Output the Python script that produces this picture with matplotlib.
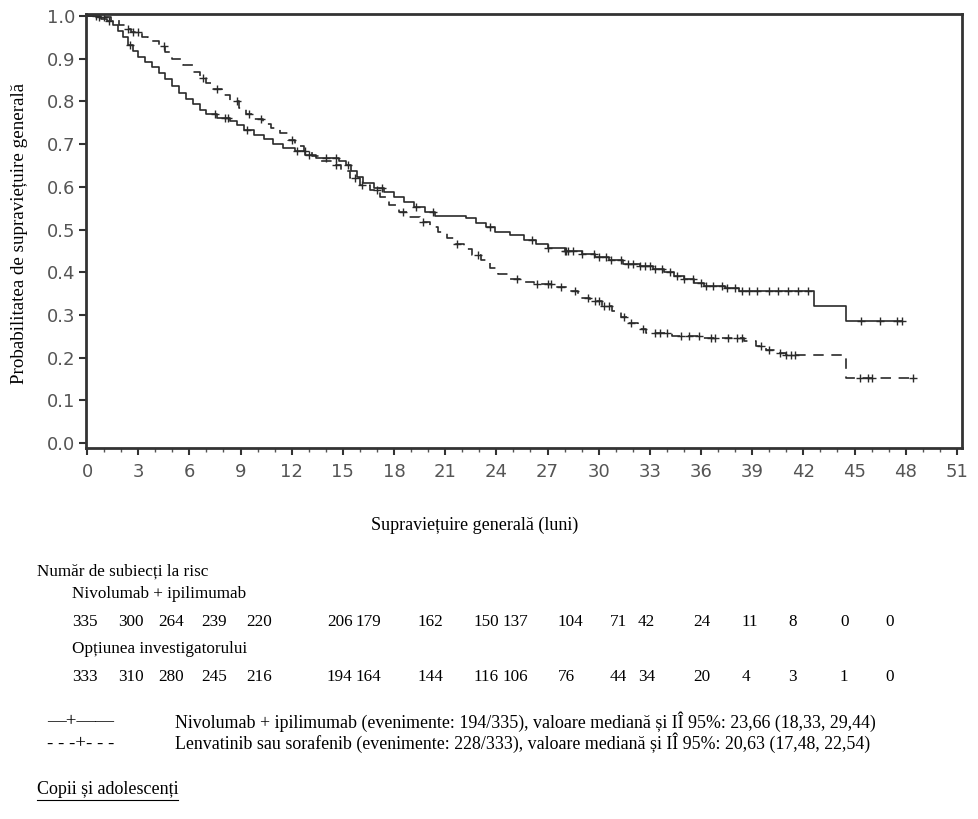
import numpy as np
import matplotlib
matplotlib.use("Agg")
import matplotlib.pyplot as plt

plt.rcParams['lines.scale_dashes'] = False

# ---------------- data ----------------
nivo_times = [0, 0.8, 1.2, 1.5, 1.8, 2.1, 2.4, 2.7, 3.0, 3.4, 3.8, 4.2, 4.6, 5.0, 5.4, 5.8,
              6.2, 6.6, 7.0, 7.6, 8.4, 8.8, 9.2, 9.8, 10.4, 10.9, 11.5, 12.2, 12.8, 13.4,
              14.8, 15.2, 15.5, 15.8, 16.2, 16.8, 17.4, 18.0, 18.6, 19.2, 19.8, 20.4, 22.2,
              22.8, 23.4, 23.9, 24.8, 25.6, 26.3, 27.0, 28.0, 29.0, 29.8, 30.6, 31.4, 32.4,
              33.2, 33.8, 34.4, 35.0, 35.6, 36.2, 37.4, 38.2, 42.6, 44.5]
nivo_surv = [1.0, 0.994, 0.988, 0.980, 0.966, 0.950, 0.932, 0.918, 0.905, 0.893, 0.880, 0.866,
             0.852, 0.836, 0.820, 0.805, 0.793, 0.780, 0.770, 0.762, 0.755, 0.745, 0.733, 0.722,
             0.712, 0.700, 0.690, 0.685, 0.675, 0.668, 0.660, 0.650, 0.638, 0.622, 0.610, 0.598,
             0.588, 0.577, 0.565, 0.552, 0.540, 0.532, 0.526, 0.515, 0.505, 0.495, 0.486, 0.476,
             0.466, 0.456, 0.450, 0.443, 0.436, 0.428, 0.420, 0.415, 0.408, 0.400, 0.392, 0.384,
             0.375, 0.368, 0.362, 0.355, 0.320, 0.285]
nivo_censor = [0.5, 1.3, 2.5, 7.5, 8.1, 8.25, 9.4, 12.3, 13.0, 14.0, 14.6, 15.3, 17.3, 19.3,
               20.3, 23.6, 26.1, 27.0, 28.0, 28.1, 28.2, 28.5, 29.0, 29.7, 30.0, 30.4, 30.7,
               31.3, 31.7, 32.0, 32.4, 32.7, 33.0, 33.3, 33.7, 34.2, 34.6, 35.0, 35.5, 36.0,
               36.3, 36.7, 37.2, 37.5, 38.0, 38.4, 38.8, 39.3, 40.0, 40.5, 41.1, 41.7, 42.3,
               45.4, 46.5, 47.5, 47.8]

len_times = [0, 0.6, 1.4, 1.9, 2.2, 2.6, 3.2, 3.6, 4.2, 4.6, 5.0, 5.6, 6.2, 6.6, 7.0, 7.4, 7.9,
             8.4, 8.9, 9.3, 9.8, 10.3, 10.8, 11.3, 11.8, 12.2, 12.7, 13.2, 13.7, 14.4, 14.9,
             15.4, 16.0, 16.6, 17.2, 17.7, 18.3, 18.9, 19.5, 20.1, 20.6, 21.1, 21.6, 22.1,
             22.6, 23.1, 23.6, 24.1, 24.7, 25.4, 26.2, 27.5, 28.2, 28.8, 29.5, 30.2, 30.8,
             31.3, 31.8, 32.3, 32.8, 34.3, 36.0, 38.5, 39.2, 39.8, 40.4, 41.0, 44.5]
len_surv = [1.0, 0.997, 0.990, 0.980, 0.970, 0.962, 0.952, 0.942, 0.930, 0.915, 0.900, 0.885,
            0.870, 0.855, 0.842, 0.828, 0.815, 0.800, 0.785, 0.770, 0.758, 0.748, 0.738, 0.725,
            0.710, 0.695, 0.683, 0.672, 0.660, 0.650, 0.638, 0.620, 0.605, 0.593, 0.575, 0.558,
            0.542, 0.530, 0.518, 0.505, 0.495, 0.480, 0.467, 0.455, 0.440, 0.428, 0.410, 0.395,
            0.385, 0.378, 0.372, 0.365, 0.355, 0.340, 0.332, 0.322, 0.308, 0.295, 0.282, 0.268,
            0.258, 0.250, 0.245, 0.238, 0.228, 0.218, 0.210, 0.205, 0.152]
len_censor = [0.7, 1.0, 2.4, 2.7, 3.0, 4.5, 6.8, 7.6, 8.8, 9.5, 10.2, 12.0, 12.8, 14.6, 15.7,
              16.1, 17.0, 18.5, 19.7, 21.7, 22.9, 25.2, 26.4, 27.0, 27.2, 27.8, 28.6, 29.4,
              29.8, 30.0, 30.3, 30.6, 31.5, 31.9, 32.6, 33.3, 33.6, 34.0, 34.8, 35.3, 35.9,
              36.6, 36.8, 37.6, 38.1, 38.4, 39.5, 40.0, 40.6, 41.0, 41.3, 41.5, 45.3, 45.8,
              46.0, 48.4]

x_ticks = list(range(0, 52, 3))
y_ticks = [0.0, 0.1, 0.2, 0.3, 0.4, 0.5, 0.6, 0.7, 0.8, 0.9, 1.0]

risk_nivo = ['335', '300', '264', '239', '220', '206', '179', '162', '150', '137', '104', '71',
             '42', '24', '11', '8', '0', '0']
risk_inv = ['333', '310', '280', '245', '216', '194', '164', '144', '116', '106', '76', '44',
            '34', '20', '4', '3', '1', '0']
risk_cols_px = [72, 118, 158, 201, 246, 327, 356, 418, 474, 503, 558, 610, 638, 693, 742, 788,
                840, 885]

legend_labels = [
    "Nivolumab + ipilimumab (evenimente: 194/335), valoare mediană și IÎ 95%: 23,66 (18,33, 29,44)",
    "Lenvatinib sau sorafenib (evenimente: 228/333), valoare mediană și IÎ 95%: 20,63 (17,48, 22,54)",
]
legend_symbols = ["—+——", "- - -+- - -"]

# ---------------- figure ----------------
W, H = 979, 819
fig = plt.figure(figsize=(W / 100, H / 100), dpi=100)

def fx(px):
    return px / W

def fy(py):
    return 1 - py / H

ax = fig.add_axes([fx(86), fy(448), fx(962) - fx(86), fy(14) - fy(448)])

line_col = '#2a2a2a'

def km(ax, times, surv, censor, **kw):
    t = np.array(times, dtype=float)
    s = np.array(surv, dtype=float)
    c = np.array(censor, dtype=float)
    end = max(t[-1], c.max())
    tt = np.append(t, end)
    ss = np.append(s, s[-1])
    ax.step(tt, ss, where='post', color=line_col, lw=1.2, **kw)
    idx = np.searchsorted(t, c, side='right') - 1
    ax.plot(c, s[idx], ls='none', marker='+', ms=6, mew=1.0, color=line_col)

km(ax, nivo_times, nivo_surv, nivo_censor)
km(ax, len_times, len_surv, len_censor, dashes=(7.5, 5.5))

ax.set_xlim(-0.06, 51.3)
ax.set_ylim(-0.0117, 1.0047)
ax.set_xticks(x_ticks)
ax.set_xticks(range(0, 52), minor=True)
ax.set_yticks(y_ticks)
ax.set_yticklabels([f"{v:.1f}" for v in y_ticks])
ax.tick_params(axis='both', which='major', direction='out', length=5, width=1.5,
               color='#333333', labelsize=13, labelcolor='#555555', pad=3)
ax.tick_params(axis='x', which='minor', direction='out', length=3, width=1.0, color='#555555')
ax.tick_params(axis='x', which='major', pad=6)
for sp in ax.spines.values():
    sp.set_linewidth(2.0)
    sp.set_color('#333333')

serif = 'Liberation Serif'
fig.text(fx(20), fy(233), "Probabilitatea de supraviețuire generală", rotation=90,
         ha='center', va='center', family=serif, fontsize=13.7)
fig.text(fx(475), fy(525), "Supraviețuire generală (luni)", ha='center', va='center',
         family=serif, fontsize=13)

TS = 12.3
fig.text(fx(37), fy(571), "Număr de subiecți la risc", ha='left', va='center', family=serif, fontsize=TS)
fig.text(fx(72), fy(594), "Nivolumab + ipilimumab", ha='left', va='center', family=serif, fontsize=TS)
for v, px in zip(risk_nivo, risk_cols_px):
    fig.text(fx(px), fy(622), v, ha='left', va='center', family=serif, fontsize=TS)
fig.text(fx(72), fy(649), "Opțiunea investigatorului", ha='left', va='center', family=serif, fontsize=TS)
for v, px in zip(risk_inv, risk_cols_px):
    fig.text(fx(px), fy(677), v, ha='left', va='center', family=serif, fontsize=TS)

for i, (sym, lab) in enumerate(zip(legend_symbols, legend_labels)):
    yy = 722 + i * 21
    fig.text(fx(47), fy(yy), sym, ha='left', va='center', family=serif, fontsize=13.5)
    fig.text(fx(175), fy(yy), lab, ha='left', va='center', family=serif, fontsize=12.9)

t = fig.text(fx(37), fy(790), "Copii și adolescenți", ha='left', va='center', family=serif,
             fontsize=13)
fig.canvas.draw()
bb = t.get_window_extent()
fig.add_artist(plt.Line2D([bb.x0 / W, bb.x1 / W], [bb.y0 / H - 0.002, bb.y0 / H - 0.002],
                          color='black', lw=0.8, transform=fig.transFigure))

fig.savefig("out.png", dpi=100)
